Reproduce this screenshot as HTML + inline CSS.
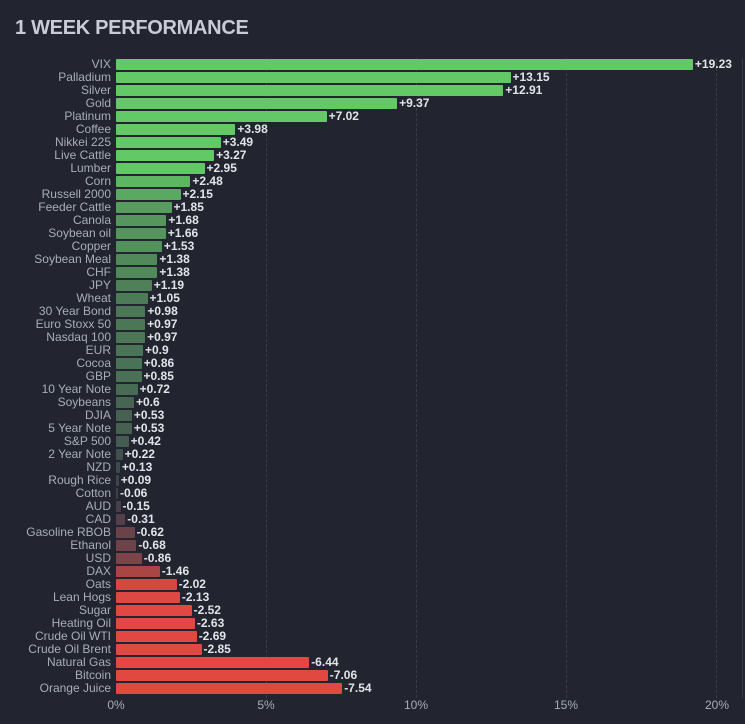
<!DOCTYPE html>
<html><head><meta charset="utf-8"><style>
body{margin:0;width:745px;height:724px;background:#22252f;overflow:hidden;font-family:"Liberation Sans",sans-serif;position:relative}
h1{position:absolute;left:15px;top:17px;margin:0;font-size:20px;font-weight:bold;color:#c9ccd6;letter-spacing:-0.3px}
.l{position:absolute;right:634px;font-size:12px;color:#a9adbb;white-space:nowrap;line-height:13px}
.b{position:absolute;left:116px;height:11px;border-radius:1px}
.v{position:absolute;font-size:12px;font-weight:bold;color:#e3e4ea;line-height:13px;white-space:nowrap}
.g{position:absolute;top:58px;height:640px;border-left:1px dashed #393c49;width:0}
.t{position:absolute;top:698px;font-size:12px;color:#a9adbb;transform:translateX(-50%)}
</style></head><body>
<h1>1 WEEK PERFORMANCE</h1>
<div id="c"></div>
<script>
var d=[["VIX",19.23],["Palladium",13.15],["Silver",12.91],["Gold",9.37],["Platinum",7.02],["Coffee",3.98],["Nikkei 225",3.49],["Live Cattle",3.27],["Lumber",2.95],["Corn",2.48],["Russell 2000",2.15],["Feeder Cattle",1.85],["Canola",1.68],["Soybean oil",1.66],["Copper",1.53],["Soybean Meal",1.38],["CHF",1.38],["JPY",1.19],["Wheat",1.05],["30 Year Bond",0.98],["Euro Stoxx 50",0.97],["Nasdaq 100",0.97],["EUR",0.9],["Cocoa",0.86],["GBP",0.85],["10 Year Note",0.72],["Soybeans",0.6],["DJIA",0.53],["5 Year Note",0.53],["S&P 500",0.42],["2 Year Note",0.22],["NZD",0.13],["Rough Rice",0.09],["Cotton",-0.06],["AUD",-0.15],["CAD",-0.31],["Gasoline RBOB",-0.62],["Ethanol",-0.68],["USD",-0.86],["DAX",-1.46],["Oats",-2.02],["Lean Hogs",-2.13],["Sugar",-2.52],["Heating Oil",-2.63],["Crude Oil WTI",-2.69],["Crude Oil Brent",-2.85],["Natural Gas",-6.44],["Bitcoin",-7.06],["Orange Juice",-7.54]];
var s=30.0,x0=116,h="";
[5,10,15,20].forEach(function(p){var x=x0+p*s;h+='<div class="g" style="left:'+x+'px"></div>';});
[0,5,10,15,20].forEach(function(p){h+='<div class="t" style="left:'+(x0+p*s+(p==20?1:0))+'px">'+p+'%</div>';});
h+='<div class="g" style="left:742px;border-left:1px solid #393c49"></div>';
function mix(a,b,t){return 'rgb('+a.map(function(v,i){return Math.round(v+(b[i]-v)*t)}).join(',')+')';}
var gray=[60,63,76],gr=[99,201,102],rd=[226,72,66];
d.forEach(function(r,i){var y=58+i*13,v=r[1],a=Math.abs(v),w=Math.max(a*s,2);
var t=Math.min(a/3,1),col=v>=0?mix(gray,gr,Math.pow(t,0.8)):mix(gray,rd,Math.min(a/2.2,1));
h+='<div class="l" style="top:'+y+'px">'+r[0].replace('&','&amp;')+'</div>';
h+='<div class="b" style="top:'+(y+1)+'px;width:'+w+'px;background:'+col+'"></div>';
h+='<div class="v" style="top:'+y+'px;left:'+(x0+w+2)+'px">'+(v>0?'+':'')+v+'</div>';});
document.getElementById('c').innerHTML=h;
</script>
</body></html>
